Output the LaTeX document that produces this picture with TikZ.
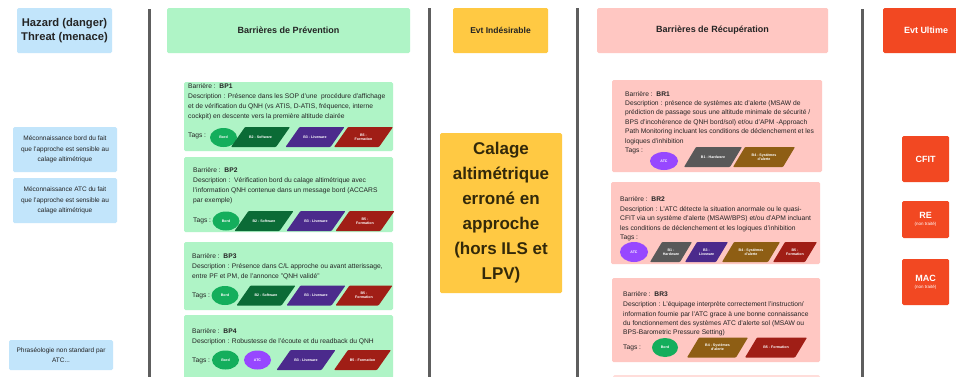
\documentclass[tikz,border=0pt]{standalone}
\usepackage{fontspec}
\setmainfont{Liberation Sans}
\usetikzlibrary{shapes.geometric}
\definecolor{lblue}{HTML}{C2E5FB}
\definecolor{lgreen}{HTML}{AFF4C6}
\definecolor{lpink}{HTML}{FFC7C2}
\definecolor{yel}{HTML}{FFC943}
\definecolor{ored}{HTML}{F24822}
\definecolor{sepc}{HTML}{5E5E5E}
\definecolor{txt}{HTML}{242424}
\definecolor{caltxt}{HTML}{33290A}
\definecolor{tgreen}{HTML}{14AE5C}
\definecolor{tdgreen}{HTML}{0B6B36}
\definecolor{tpurple}{HTML}{4B2A8C}
\definecolor{tred}{HTML}{A01E16}
\definecolor{tviolet}{HTML}{9747FF}
\definecolor{tgray}{HTML}{595959}
\definecolor{tbrown}{HTML}{8E5E14}
\newcommand\fs[2]{\fontsize{#1}{#2}\selectfont}
\tikzset{
  card/.style={rounded corners=1.5pt, inner sep=0pt, draw=none, align=center},
  hdrtxt/.style={font=\bfseries\fs{9}{11}, text=txt},
  desc/.style={font=\fs{6.7}{7}, text=txt, anchor=base west, inner sep=0pt},
  tagtxt/.style={font=\bfseries\fs{3.6}{4.3}, text=white, align=center, inner sep=0pt},
  oval/.style={ellipse, minimum width=27pt, minimum height=19pt, tagtxt},
  vsep/.style={draw=sepc, line width=3pt},
}
\def\tgH{20}\def\tgS{14}
\newcommand\ptag[6]{%
  \fill[#5, rounded corners=0.8pt] ({#2-#4/2-\tgS/2},{#3+\tgH/2}) -- ({#2+#4/2-\tgS/2},{#3+\tgH/2})
     -- ({#2+#4/2+\tgS/2},{#3-\tgH/2}) -- ({#2-#4/2+\tgS/2},{#3-\tgH/2}) -- cycle;
  \node[tagtxt] (#1) at (#2,#3) {#6};}
\begin{document}
\begin{tikzpicture}[x=1pt,y=-1pt]
\useasboundingbox (0,0) rectangle (956,376);
\fill[white] (0,0) rectangle (956,376);

% separators
\coordinate (s1t) at (149.5,9); \coordinate (s1b) at (149.5,380);
\coordinate (s2t) at (429.5,8); \coordinate (s2b) at (429.5,380);
\coordinate (s3t) at (577.5,8); \coordinate (s3b) at (577.5,380);
\coordinate (s4t) at (862.5,9); \coordinate (s4b) at (862.5,380);
\draw[vsep] (s1t) -- (s1b);
\draw[vsep] (s2t) -- (s2b);
\draw[vsep] (s3t) -- (s3b);
\draw[vsep] (s4t) -- (s4b);

% headers
\node[card, fill=lblue, minimum width=95pt, minimum height=45pt, font=\bfseries\fs{11.2}{13.5}, text=txt] (hz) at (64.5,30.5) {Hazard (danger)\\Threat (menace)};
\node[card, fill=lgreen, minimum width=243pt, minimum height=45pt, hdrtxt] (hprev) at (288.5,30.5) {Barrières de Prévention};
\node[card, fill=yel, minimum width=95pt, minimum height=45pt, hdrtxt, font=\bfseries\fs{8.5}{10}] (hind) at (500.5,30.5) {Evt Indésirable};
\node[card, fill=lpink, minimum width=231pt, minimum height=45pt, hdrtxt] (hrec) at (712.5,30.5) {Barrières de Récupération};
\node[card, fill=ored, minimum width=86pt, minimum height=45pt, hdrtxt, text=white] (hult) at (926,30.5) {Evt Ultime};

% threats
\node[card, fill=lblue, minimum width=104pt, minimum height=45pt, font=\fs{6.5}{10.5}, text=txt] (t1) at (65,149.5) {Méconnaissance bord du fait\\que l'approche est sensible au\\calage altimétrique};
\node[card, fill=lblue, minimum width=104pt, minimum height=45pt, font=\fs{6.5}{10.5}, text=txt] (t2) at (65,200.5) {Méconnaissance ATC du fait\\que l'approche est sensible au\\calage altimétrique};
\node[card, fill=lblue, minimum width=104pt, minimum height=30pt, font=\fs{6.5}{10.5}, text=txt] (t3) at (61,355) {Phraséologie non standard par\\ATC...};

% undesirable event
\node[card, fill=yel, minimum width=122pt, minimum height=160pt, font=\bfseries\fs{17}{25}, text=caltxt] (ev) at (501,213) {Calage\\altimétrique\\erroné en\\approche\\(hors ILS et\\LPV)};

% ultimate events
\node[card, fill=ored, minimum width=47pt, minimum height=46pt, font=\bfseries\fs{9}{10}, text=white] (cfit) at (925.5,159) {CFIT};
\node[card, fill=ored, minimum width=47pt, minimum height=37pt, font=\bfseries\fs{9}{7}, text=white] (re) at (925.5,219.5) {RE\\{\mdseries\fs{4.5}{6}(non traité)}};
\node[card, fill=ored, minimum width=47pt, minimum height=46pt, font=\bfseries\fs{9}{7}, text=white] (mac) at (925.5,282) {MAC\\{\mdseries\fs{4.5}{6}(non traité)}};

% prevention barriers
\node[card, fill=lgreen, minimum width=209pt, minimum height=69pt] (bp1) at (288.5,116.5) {};
\node[card, fill=lgreen, minimum width=209pt, minimum height=75pt] (bp2) at (288.5,194.5) {};
\node[card, fill=lgreen, minimum width=209pt, minimum height=68pt] (bp3) at (288.5,276) {};
\node[card, fill=lgreen, minimum width=209pt, minimum height=70pt] (bp4) at (288.5,350) {};

\node[desc] (bp1a) at (188,88.7) {Barrière :\ \ \textbf{BP1}};
\node[desc] (bp1b) at (188,98.7) {Description : Présence dans les SOP d'une\ \ procédure d'affichage};
\node[desc] (bp1c) at (188,108.7) {et de vérification du QNH (vs ATIS, D-ATIS, fréquence, interne};
\node[desc] (bp1d) at (188,118.7) {cockpit) en descente vers la première altitude clairée};
\node[desc] (bp1t) at (188,137.7) {Tags :};
\node[oval, fill=tgreen] (bp1g1) at (223.5,137.5) {Bord};
\ptag{bp1g2}{260.5}{137}{45}{tdgreen}{B2 - Software}
\ptag{bp1g3}{315}{137}{45}{tpurple}{B3 - Liveware}
\ptag{bp1g4}{363.5}{137}{45}{tred}{B5 -\\Formation}

\node[desc] (bp2a) at (193,172) {Barrière :\ \ \textbf{BP2}};
\node[desc] (bp2b) at (193,182) {Description :\ \ Vérification bord du calage altimétrique avec};
\node[desc] (bp2c) at (193,192) {l'information QNH contenue dans un message bord (ACCARS};
\node[desc] (bp2d) at (193,202.7) {par exemple)};
\node[desc] (bp2t) at (193,222) {Tags :};
\node[oval, fill=tgreen] (bp2g1) at (226,221) {Bord};
\ptag{bp2g2}{264}{221}{45}{tdgreen}{B2 - Software}
\ptag{bp2g3}{316}{221}{45}{tpurple}{B3 - Liveware}
\ptag{bp2g4}{365}{221}{45}{tred}{B5 -\\Formation}

\node[desc] (bp3a) at (192,258.7) {Barrière :\ \ \textbf{BP3}};
\node[desc] (bp3b) at (192,268.7) {Description : Présence dans C/L approche ou avant atterissage,};
\node[desc] (bp3c) at (192,278.7) {entre PF et PM, de l'annonce "QNH validé"};
\node[desc] (bp3t) at (192,297) {Tags :};
\node[oval, fill=tgreen] (bp3g1) at (225,295.5) {Bord};
\ptag{bp3g2}{266}{295.5}{45}{tdgreen}{B2 - Software}
\ptag{bp3g3}{316}{295.5}{45}{tpurple}{B3 - Liveware}
\ptag{bp3g4}{364}{295.5}{43}{tred}{B5 -\\Formation}

\node[desc] (bp4a) at (192,333.7) {Barrière :\ \ \textbf{BP4}};
\node[desc] (bp4b) at (192,343.7) {Description : Robustesse de l'écoute et du readback du QNH};
\node[desc] (bp4t) at (192,362) {Tags :};
\node[oval, fill=tgreen] (bp4g1) at (225.5,360) {Bord};
\node[oval, fill=tviolet] (bp4g2) at (257.5,360) {ATC};
\ptag{bp4g3}{306}{360}{45}{tpurple}{B3 - Liveware}
\ptag{bp4g4}{362.5}{360}{43}{tred}{B5 - Formation}

% recovery barriers
\node[card, fill=lpink, minimum width=210pt, minimum height=92pt] (br1) at (717,126) {};
\node[card, fill=lpink, minimum width=209pt, minimum height=82pt] (br2) at (715.5,223) {};
\node[card, fill=lpink, minimum width=208pt, minimum height=84pt] (br3) at (716,320) {};
\node[card, fill=lpink!60, minimum width=207pt, minimum height=25pt] (br4) at (716.5,387.5) {};

\def\tgS{12}
\node[desc] (br1a) at (625,96) {Barrière :\ \ \textbf{BR1}};
\node[desc] (br1b) at (625,105.3) {Description : présence de systèmes atc d'alerte (MSAW de};
\node[desc] (br1c) at (625,114.7) {prédiction de passage sous une altitude minimale de sécurité /};
\node[desc] (br1d) at (625,124.2) {BPS d'incohérence de QNH bord/sol) et/ou d'APM -Approach};
\node[desc] (br1e) at (625,133.5) {Path Monitoring incluant les conditions de déclenchement et les};
\node[desc] (br1f) at (625,143) {logiques d'inhibition};
\node[desc] (br1t) at (625,152) {Tags :};
\node[oval, fill=tviolet, minimum width=28pt, minimum height=18pt] (br1g1) at (664,161) {ATC};
\ptag{br1g2}{713}{157}{46}{tgray}{B1 - Hardware}
\ptag{br1g3}{764}{157}{50}{tbrown}{B4 - Systèmes\\d'alerte}

\node[desc] (br2a) at (620,201) {Barrière :\ \ \textbf{BR2}};
\node[desc] (br2b) at (620,211) {Description : L'ATC détecte la situation anormale ou le quasi-};
\node[desc] (br2c) at (620,220.3) {CFIT via un système d'alerte (MSAW/BPS) et/ou d'APM incluant};
\node[desc] (br2d) at (620,230.3) {les conditions de déclenchement et les logiques d'inhibition};
\node[desc] (br2t) at (620,239.7) {Tags :};
\node[oval, fill=tviolet, minimum width=28pt, minimum height=20pt] (br2g1) at (634,252) {ATC};
\ptag{br2g2}{671}{252}{30}{tgray}{B1 -\\Hardware}
\ptag{br2g3}{706.5}{252}{31}{tpurple}{B3 -\\Liveware}
\ptag{br2g4}{751}{252}{46}{tbrown}{B4 - Systèmes\\d'alerte}
\ptag{br2g5}{795}{252}{32}{tred}{B5 -\\Formation}

\node[desc] (br3a) at (623,296) {Barrière :\ \ \textbf{BR3}};
\node[desc] (br3b) at (623,306.3) {Description : L'équipage interprète correctement l'instruction/};
\node[desc] (br3c) at (623,316) {information fournie par l'ATC grace à une bonne connaissance};
\node[desc] (br3d) at (623,325.3) {du fonctionnement des systèmes ATC d'alerte sol (MSAW ou};
\node[desc] (br3e) at (623,334.3) {BPS-Barometric Pressure Setting)};
\node[desc] (br3t) at (623,349.3) {Tags :};
\node[oval, fill=tgreen, minimum width=26pt, minimum height=19pt] (br3g1) at (665,347.5) {Bord};
\ptag{br3g2}{717.5}{347.5}{49}{tbrown}{B4 - Systèmes\\d'alerte}
\ptag{br3g3}{776}{347.5}{50}{tred}{B5 - Formation}
\end{tikzpicture}
\end{document}
